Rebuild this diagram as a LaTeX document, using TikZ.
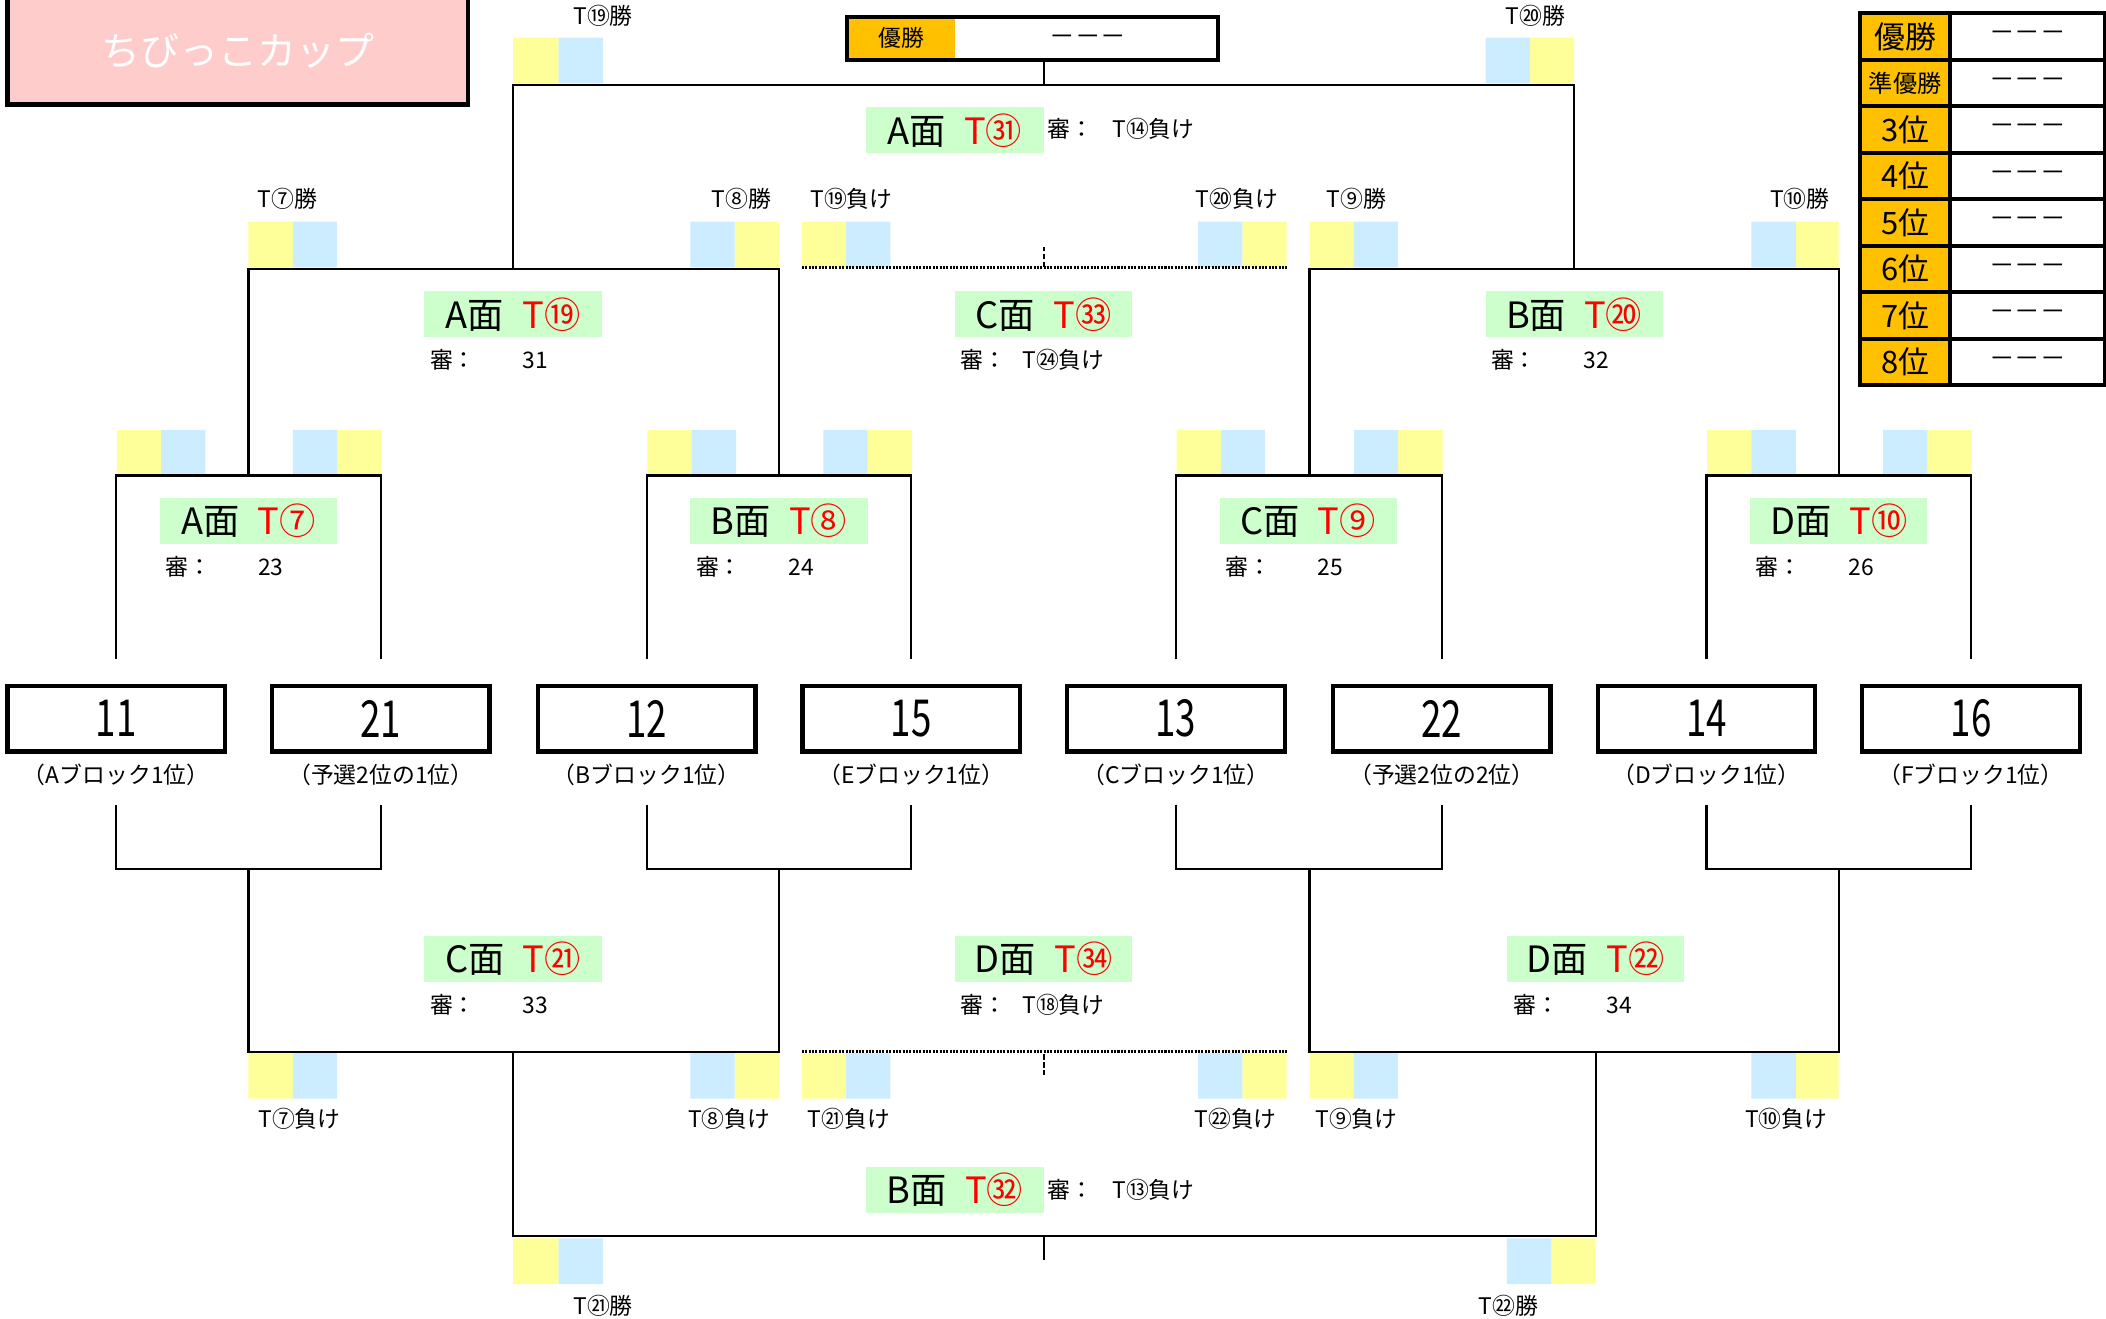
\documentclass[tikz,border=0pt]{standalone}
\usepackage{fontspec}
\setmainfont{Noto Sans CJK JP}
\newfontfamily\numfont[FakeStretch=0.72]{Noto Sans CJK JP}
\usepackage{tikz}
\usetikzlibrary{positioning}
\definecolor{yel}{RGB}{255,255,153}
\definecolor{blu}{RGB}{204,236,255}
\definecolor{grn}{RGB}{204,255,204}
\definecolor{org}{RGB}{255,192,0}
\definecolor{pnk}{RGB}{255,204,204}
\definecolor{red}{RGB}{255,0,0}
\begin{document}
\begin{tikzpicture}[x=1pt,y=-1pt]
	\tikzstyle{team}=[draw=black, line width=3.2pt, minimum width=162pt, minimum height=49pt, inner sep=0pt, font=\numfont\fontsize{38}{40}\selectfont]
	\tikzstyle{court}=[fill=grn, minimum width=132pt, minimum height=34pt, inner sep=0pt, font=\fontsize{27}{30}\selectfont]
	\tikzstyle{small}=[inner sep=0pt, font=\fontsize{17}{20}\selectfont]
	\tikzstyle{rank}=[draw=black, line width=3pt, fill=org, minimum width=67pt, minimum height=34.6pt, inner sep=0pt, font=\fontsize{23}{26}\selectfont]
	\tikzstyle{val}=[draw=black, line width=3pt, minimum width=115pt, minimum height=34.6pt, inner sep=0pt, font=\fontsize{19}{20}\selectfont]
	\tikzstyle{line}=[line width=1.6pt]
	\tikzstyle{dots}=[line width=2pt, dash pattern=on 1.5pt off 1pt]
	\tikzstyle{tick}=[line width=1.6pt, dash pattern=on 4pt off 2pt]

	\useasboundingbox (0,0) rectangle (1568,982);

	\draw node at (177,37.5) [draw=black, line width=3.5pt, fill=pnk, minimum width=343pt, minimum height=81pt, inner sep=0pt, text=white, font=\fontsize{29}{32}\selectfont] (cup) {ちびっこカップ};

	% yellow / blue squares
	\fill[yel] (382,28) rectangle +(34,34) (1139,28) rectangle +(33,34)
		(185,165) rectangle +(33,34) (547,165) rectangle +(33,34) (597,165) rectangle +(33,34)
		(925,165) rectangle +(33,34) (975,165) rectangle +(33,34) (1337,165) rectangle +(32,34)
		(87,320) rectangle +(33,34) (251,320) rectangle +(33,34) (482,320) rectangle +(33,34) (646,320) rectangle +(33,34)
		(876,320) rectangle +(33,34) (1041,320) rectangle +(33,34) (1271,320) rectangle +(33,34) (1435,320) rectangle +(33,34)
		(185,784) rectangle +(33,34) (547,784) rectangle +(33,34) (597,784) rectangle +(33,34)
		(925,784) rectangle +(33,34) (975,784) rectangle +(33,34) (1337,784) rectangle +(32,34)
		(382,922) rectangle +(34,34) (1155,922) rectangle +(33,34);
	\fill[blu] (416,28) rectangle +(33,34) (1106,28) rectangle +(33,34)
		(218,165) rectangle +(33,34) (514,165) rectangle +(33,34) (630,165) rectangle +(33,34)
		(892,165) rectangle +(33,34) (1008,165) rectangle +(33,34) (1304,165) rectangle +(33,34)
		(120,320) rectangle +(33,34) (218,320) rectangle +(33,34) (515,320) rectangle +(33,34) (613,320) rectangle +(33,34)
		(909,320) rectangle +(33,34) (1008,320) rectangle +(33,34) (1304,320) rectangle +(33,34) (1402,320) rectangle +(33,34)
		(218,784) rectangle +(33,34) (514,784) rectangle +(33,34) (630,784) rectangle +(33,34)
		(892,784) rectangle +(33,34) (1008,784) rectangle +(33,34) (1304,784) rectangle +(33,34)
		(416,922) rectangle +(33,34) (1122,922) rectangle +(33,34);

	\draw node at (449,12) [small] (win19) {T⑲勝};
	\draw node at (1143,12) [small] (win20) {T⑳勝};
	\draw node at (214,148) [small] (win7) {T⑦勝};
	\draw node at (552,148) [small] (win8) {T⑧勝};
	\draw node at (634,148) [small] (lose19) {T⑲負け};
	\draw node at (921,148) [small] (lose20) {T⑳負け};
	\draw node at (1010,148) [small] (win9) {T⑨勝};
	\draw node at (1340,148) [small] (win10) {T⑩勝};
	\draw node at (223,833) [small] (lose7) {T⑦負け};
	\draw node at (543,833) [small] (lose8) {T⑧負け};
	\draw node at (632,833) [small] (lose21) {T㉑負け};
	\draw node at (920,833) [small] (lose22) {T㉒負け};
	\draw node at (1010,833) [small] (lose9) {T⑨負け};
	\draw node at (1330,833) [small] (lose10) {T⑩負け};
	\draw node at (449,972) [small] (win21) {T㉑勝};
	\draw node at (1123,972) [small] (win22) {T㉒勝};

	% champion
	\fill[org] (631,13) rectangle (711,44);
	\draw node at (768.5,28.5) [draw=black, line width=3pt, minimum width=276pt, minimum height=32pt] (champ) {};
	\draw node at (671,28.5) [small] (champt) {優勝};
	\draw node at (810,30) [small, font=\fontsize{19}{20}\selectfont] (champv) {－－－};

	% ranking table
	\draw node at (1418.5,27.3) [rank] (k1) {優勝};
	\draw node at (1418.5,61.9) [rank, font=\fontsize{18}{20}\selectfont] (k2) {準優勝};
	\draw node at (1418.5,96.5) [rank] (k3) {3位};
	\draw node at (1418.5,131.1) [rank] (k4) {4位};
	\draw node at (1418.5,165.7) [rank] (k5) {5位};
	\draw node at (1418.5,200.3) [rank] (k6) {6位};
	\draw node at (1418.5,234.9) [rank] (k7) {7位};
	\draw node at (1418.5,269.5) [rank] (k8) {8位};
	\draw node at (1509.5,27.3) [val] (v1) {－－－};
	\draw node at (1509.5,61.9) [val] (v2) {－－－};
	\draw node at (1509.5,96.5) [val] (v3) {－－－};
	\draw node at (1509.5,131.1) [val] (v4) {－－－};
	\draw node at (1509.5,165.7) [val] (v5) {－－－};
	\draw node at (1509.5,200.3) [val] (v6) {－－－};
	\draw node at (1509.5,234.9) [val] (v7) {－－－};
	\draw node at (1509.5,269.5) [val] (v8) {－－－};

	% teams
	\draw node at (86.5,535) [team] (s11) {11};
	\draw node at (283.5,535) [team] (s21) {21};
	\draw node at (481.5,535) [team] (s12) {12};
	\draw node at (678.5,535) [team] (s15) {15};
	\draw node at (875.5,535) [team] (s13) {13};
	\draw node at (1073.5,535) [team] (s22) {22};
	\draw node at (1270.5,535) [team] (s14) {14};
	\draw node at (1467.5,535) [team] (s16) {16};
	\draw node at (86.5,577) [small] (b11) {（Aブロック1位）};
	\draw node at (283.5,577) [small] (b21) {（予選2位の1位）};
	\draw node at (481.5,577) [small] (b12) {（Bブロック1位）};
	\draw node at (678.5,577) [small] (b15) {（Eブロック1位）};
	\draw node at (875.5,577) [small] (b13) {（Cブロック1位）};
	\draw node at (1073.5,577) [small] (b22) {（予選2位の2位）};
	\draw node at (1270.5,577) [small] (b14) {（Dブロック1位）};
	\draw node at (1467.5,577) [small] (b16) {（Fブロック1位）};

	% upper bracket
	\coordinate (q7) at (185,354);
	\coordinate (q8) at (580,354);
	\coordinate (q9) at (975,354);
	\coordinate (q10) at (1369,354);
	\coordinate (r19) at (382,200);
	\coordinate (r20) at (1172,200);
	\coordinate (f31) at (777,63);
	\draw [line] ([yshift=18pt]s11.north) |- (q7) -| ([yshift=18pt]s21.north);
	\draw [line] ([yshift=18pt]s12.north) |- (q8) -| ([yshift=18pt]s15.north);
	\draw [line] ([yshift=18pt]s13.north) |- (q9) -| ([yshift=18pt]s22.north);
	\draw [line] ([yshift=18pt]s14.north) |- (q10) -| ([yshift=18pt]s16.north);
	\draw [line] (q7) |- (r19) -| (q8);
	\draw [line] (q9) |- (r20) -| (q10);
	\draw [line] (r19) |- (f31) -| (r20);
	\draw [line] (f31) -- (f31 |- champ.south);
	\coordinate (d33a) at (597,199);
	\coordinate (d33b) at (958,199);
	\coordinate (d33) at (777,199);
	\draw [dots] (d33a) -- (d33b);
	\draw [tick] (d33) -- +(0,-15);

	% lower bracket
	\coordinate (l7) at (185,647);
	\coordinate (l8) at (580,647);
	\coordinate (l9) at (975,647);
	\coordinate (l10) at (1369,647);
	\coordinate (m21) at (382,783);
	\coordinate (m22) at (1188,783);
	\coordinate (p32) at (777,920);
	\draw [line] ([yshift=-38pt]s11.south) |- (l7) -| ([yshift=-38pt]s21.south);
	\draw [line] ([yshift=-38pt]s12.south) |- (l8) -| ([yshift=-38pt]s15.south);
	\draw [line] ([yshift=-38pt]s13.south) |- (l9) -| ([yshift=-38pt]s22.south);
	\draw [line] ([yshift=-38pt]s14.south) |- (l10) -| ([yshift=-38pt]s16.south);
	\draw [line] (l7) |- (m21) -| (l8);
	\draw [line] (l9) |- (m22) -| (l10);
	\draw [line] (m21) |- (p32) -| (m22);
	\draw [line] (p32) -- +(0,18);
	\coordinate (d34a) at (597,783);
	\coordinate (d34b) at (958,783);
	\coordinate (d34) at (777,785);
	\draw [dots] (d34a) -- (d34b);
	\draw [tick] (d34) -- +(0,15);

	% courts
	\draw node at (711,97) [court] (c31) {A面\hspace{0.5em}\textcolor{red}{T㉛}};
	\draw node at (382,234) [court] (c19) {A面\hspace{0.5em}\textcolor{red}{T⑲}};
	\draw node at (777,234) [court] (c33) {C面\hspace{0.5em}\textcolor{red}{T㉝}};
	\draw node at (1172,234) [court] (c20) {B面\hspace{0.5em}\textcolor{red}{T⑳}};
	\draw node at (185,388) [court] (c7) {A面\hspace{0.5em}\textcolor{red}{T⑦}};
	\draw node at (580,388) [court] (c8) {B面\hspace{0.5em}\textcolor{red}{T⑧}};
	\draw node at (974,388) [court] (c9) {C面\hspace{0.5em}\textcolor{red}{T⑨}};
	\draw node at (1369,388) [court] (c10) {D面\hspace{0.5em}\textcolor{red}{T⑩}};
	\draw node at (382,714) [court] (c21) {C面\hspace{0.5em}\textcolor{red}{T㉑}};
	\draw node at (777,714) [court] (c34) {D面\hspace{0.5em}\textcolor{red}{T㉞}};
	\draw node at (1188,714) [court] (c22) {D面\hspace{0.5em}\textcolor{red}{T㉒}};
	\draw node at (711,886) [court] (c32) {B面\hspace{0.5em}\textcolor{red}{T㉜}};

	% referees
	\draw node at (780,96) [small, anchor=west] (j31) {\makebox[48pt][l]{審：}T⑭負け};
	\draw node at (320,268) [small, anchor=west] (j19) {\makebox[69pt][l]{審：}31};
	\draw node at (715,268) [small, anchor=west] (j33) {\makebox[46pt][l]{審：}T㉔負け};
	\draw node at (1110,268) [small, anchor=west] (j20) {\makebox[69pt][l]{審：}32};
	\draw node at (123,422) [small, anchor=west] (j7) {\makebox[69pt][l]{審：}23};
	\draw node at (518,422) [small, anchor=west] (j8) {\makebox[69pt][l]{審：}24};
	\draw node at (912,422) [small, anchor=west] (j9) {\makebox[69pt][l]{審：}25};
	\draw node at (1307,422) [small, anchor=west] (j10) {\makebox[69pt][l]{審：}26};
	\draw node at (320,748) [small, anchor=west] (j21) {\makebox[69pt][l]{審：}33};
	\draw node at (715,748) [small, anchor=west] (j34) {\makebox[46pt][l]{審：}T⑱負け};
	\draw node at (1127,748) [small, anchor=west] (j22) {\makebox[69pt][l]{審：}34};
	\draw node at (780,886) [small, anchor=west] (j32) {\makebox[48pt][l]{審：}T⑬負け};
\end{tikzpicture}
\end{document}
